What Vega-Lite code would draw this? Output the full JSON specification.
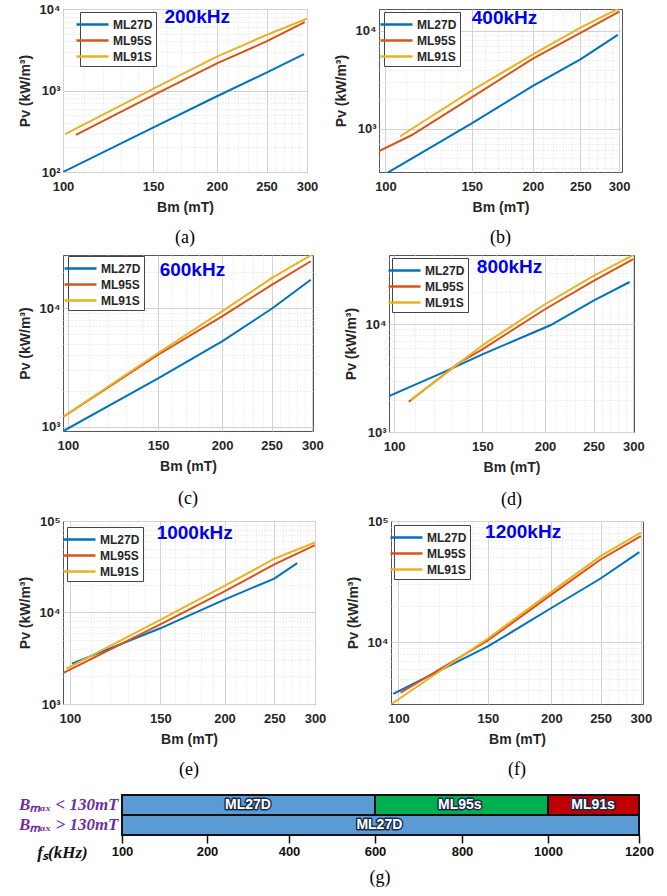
{
  "$schema": "https://vega.github.io/schema/vega-lite/v6.json",
  "background": "white",
  "padding": {"left": 17, "top": 2, "right": 0, "bottom": 0},
  "config": {
    "view": {"stroke": "#555555", "strokeWidth": 1},
    "axis": {
      "labelFont": "Liberation Sans", "labelFontWeight": "bold", "labelFontSize": 13, "labelColor": "#262626",
      "titleFont": "Liberation Sans", "titleFontWeight": "bold", "titleFontSize": 14, "titleColor": "#262626",
      "domain": false, "ticks": false, "grid": true, "labelOverlap": false, "labelBound": false, "labelFlush": false
    },
    "legend": {
      "orient": "none", "symbolType": "M-2,0H2", "symbolSize": 256, "symbolStrokeWidth": 2.5,
      "labelFont": "Liberation Sans", "labelFontWeight": "bold", "labelFontSize": 12, "labelColor": "#262626",
      "labelOffset": 11, "padding": 3, "strokeColor": "#444444", "fillColor": "white", "rowPadding": 0
    },
    "title": {"orient": "bottom", "frame": "group", "anchor": "middle", "font": "Liberation Serif", "fontSize": 18, "fontWeight": "normal", "color": "#000000", "offset": 15}
  },
  "datasets": {
    "curves": [
      {"f": "200kHz", "m": "ML27D", "b": 100, "pv": 100},
      {"f": "200kHz", "m": "ML27D", "b": 150, "pv": 350},
      {"f": "200kHz", "m": "ML27D", "b": 200, "pv": 850},
      {"f": "200kHz", "m": "ML27D", "b": 250, "pv": 1660},
      {"f": "200kHz", "m": "ML27D", "b": 296, "pv": 2800},
      {"f": "200kHz", "m": "ML95S", "b": 106, "pv": 285},
      {"f": "200kHz", "m": "ML95S", "b": 150, "pv": 870},
      {"f": "200kHz", "m": "ML95S", "b": 200, "pv": 2150},
      {"f": "200kHz", "m": "ML95S", "b": 250, "pv": 4000},
      {"f": "200kHz", "m": "ML95S", "b": 297, "pv": 6900},
      {"f": "200kHz", "m": "ML91S", "b": 101, "pv": 292},
      {"f": "200kHz", "m": "ML91S", "b": 150, "pv": 1050},
      {"f": "200kHz", "m": "ML91S", "b": 200, "pv": 2600},
      {"f": "200kHz", "m": "ML91S", "b": 250, "pv": 4800},
      {"f": "200kHz", "m": "ML91S", "b": 300, "pv": 7600},

      {"f": "400kHz", "m": "ML27D", "b": 100.6, "pv": 350},
      {"f": "400kHz", "m": "ML27D", "b": 150, "pv": 1130},
      {"f": "400kHz", "m": "ML27D", "b": 200, "pv": 2740},
      {"f": "400kHz", "m": "ML27D", "b": 250, "pv": 5100},
      {"f": "400kHz", "m": "ML27D", "b": 298, "pv": 9100},
      {"f": "400kHz", "m": "ML95S", "b": 97, "pv": 590},
      {"f": "400kHz", "m": "ML95S", "b": 113, "pv": 855},
      {"f": "400kHz", "m": "ML95S", "b": 150, "pv": 2090},
      {"f": "400kHz", "m": "ML95S", "b": 200, "pv": 5200},
      {"f": "400kHz", "m": "ML95S", "b": 250, "pv": 9500},
      {"f": "400kHz", "m": "ML95S", "b": 300, "pv": 15700},
      {"f": "400kHz", "m": "ML91S", "b": 107, "pv": 830},
      {"f": "400kHz", "m": "ML91S", "b": 150, "pv": 2440},
      {"f": "400kHz", "m": "ML91S", "b": 200, "pv": 5730},
      {"f": "400kHz", "m": "ML91S", "b": 250, "pv": 10800},
      {"f": "400kHz", "m": "ML91S", "b": 298, "pv": 16700},

      {"f": "600kHz", "m": "ML27D", "b": 98, "pv": 920},
      {"f": "600kHz", "m": "ML27D", "b": 150, "pv": 2560},
      {"f": "600kHz", "m": "ML27D", "b": 200, "pv": 5230},
      {"f": "600kHz", "m": "ML27D", "b": 250, "pv": 9870},
      {"f": "600kHz", "m": "ML27D", "b": 298, "pv": 17300},
      {"f": "600kHz", "m": "ML95S", "b": 98, "pv": 1215},
      {"f": "600kHz", "m": "ML95S", "b": 150, "pv": 4040},
      {"f": "600kHz", "m": "ML95S", "b": 200, "pv": 8500},
      {"f": "600kHz", "m": "ML95S", "b": 250, "pv": 15700},
      {"f": "600kHz", "m": "ML95S", "b": 298, "pv": 24800},
      {"f": "600kHz", "m": "ML91S", "b": 98, "pv": 1215},
      {"f": "600kHz", "m": "ML91S", "b": 150, "pv": 4180},
      {"f": "600kHz", "m": "ML91S", "b": 200, "pv": 9370},
      {"f": "600kHz", "m": "ML91S", "b": 250, "pv": 17900},
      {"f": "600kHz", "m": "ML91S", "b": 300, "pv": 28300},

      {"f": "800kHz", "m": "ML27D", "b": 97.7, "pv": 2160},
      {"f": "800kHz", "m": "ML27D", "b": 125, "pv": 3560},
      {"f": "800kHz", "m": "ML27D", "b": 150, "pv": 5260},
      {"f": "800kHz", "m": "ML27D", "b": 205, "pv": 9800},
      {"f": "800kHz", "m": "ML27D", "b": 250, "pv": 16600},
      {"f": "800kHz", "m": "ML27D", "b": 295, "pv": 24700},
      {"f": "800kHz", "m": "ML95S", "b": 107, "pv": 1910},
      {"f": "800kHz", "m": "ML95S", "b": 135, "pv": 4410},
      {"f": "800kHz", "m": "ML95S", "b": 150, "pv": 5860},
      {"f": "800kHz", "m": "ML95S", "b": 200, "pv": 13800},
      {"f": "800kHz", "m": "ML95S", "b": 250, "pv": 25300},
      {"f": "800kHz", "m": "ML95S", "b": 300, "pv": 40200},
      {"f": "800kHz", "m": "ML91S", "b": 108, "pv": 1980},
      {"f": "800kHz", "m": "ML91S", "b": 150, "pv": 6380},
      {"f": "800kHz", "m": "ML91S", "b": 200, "pv": 15350},
      {"f": "800kHz", "m": "ML91S", "b": 250, "pv": 28100},
      {"f": "800kHz", "m": "ML91S", "b": 300, "pv": 44000},

      {"f": "1000kHz", "m": "ML27D", "b": 101, "pv": 2760},
      {"f": "1000kHz", "m": "ML27D", "b": 150, "pv": 6720},
      {"f": "1000kHz", "m": "ML27D", "b": 200, "pv": 13840},
      {"f": "1000kHz", "m": "ML27D", "b": 250, "pv": 23500},
      {"f": "1000kHz", "m": "ML27D", "b": 277, "pv": 34600},
      {"f": "1000kHz", "m": "ML95S", "b": 97, "pv": 2180},
      {"f": "1000kHz", "m": "ML95S", "b": 150, "pv": 7400},
      {"f": "1000kHz", "m": "ML95S", "b": 200, "pv": 17000},
      {"f": "1000kHz", "m": "ML95S", "b": 250, "pv": 33500},
      {"f": "1000kHz", "m": "ML95S", "b": 300, "pv": 54400},
      {"f": "1000kHz", "m": "ML91S", "b": 98.5, "pv": 2430},
      {"f": "1000kHz", "m": "ML91S", "b": 150, "pv": 8300},
      {"f": "1000kHz", "m": "ML91S", "b": 200, "pv": 19500},
      {"f": "1000kHz", "m": "ML91S", "b": 250, "pv": 38700},
      {"f": "1000kHz", "m": "ML91S", "b": 300, "pv": 58300},

      {"f": "1200kHz", "m": "ML27D", "b": 97.7, "pv": 3730},
      {"f": "1200kHz", "m": "ML27D", "b": 150, "pv": 9200},
      {"f": "1200kHz", "m": "ML27D", "b": 200, "pv": 19120},
      {"f": "1200kHz", "m": "ML27D", "b": 250, "pv": 33500},
      {"f": "1200kHz", "m": "ML27D", "b": 298, "pv": 55300},
      {"f": "1200kHz", "m": "ML95S", "b": 101, "pv": 3830},
      {"f": "1200kHz", "m": "ML95S", "b": 150, "pv": 10300},
      {"f": "1200kHz", "m": "ML95S", "b": 200, "pv": 24650},
      {"f": "1200kHz", "m": "ML95S", "b": 250, "pv": 48100},
      {"f": "1200kHz", "m": "ML95S", "b": 300, "pv": 75100},
      {"f": "1200kHz", "m": "ML91S", "b": 96.7, "pv": 3060},
      {"f": "1200kHz", "m": "ML91S", "b": 150, "pv": 10700},
      {"f": "1200kHz", "m": "ML91S", "b": 200, "pv": 25960},
      {"f": "1200kHz", "m": "ML91S", "b": 250, "pv": 51300},
      {"f": "1200kHz", "m": "ML91S", "b": 300, "pv": 80000}
    ],
    "bands": [
      {"row": "Bₘₐₓ < 130mT", "start": 100, "end": 600, "mat": "ML27D", "at": 300},
      {"row": "Bₘₐₓ < 130mT", "start": 600, "end": 1000, "mat": "ML95s", "at": 795},
      {"row": "Bₘₐₓ < 130mT", "start": 1000, "end": 1200, "mat": "ML91s", "at": 1099},
      {"row": "Bₘₐₓ > 130mT", "start": 100, "end": 1200, "mat": "ML27D", "at": 610}
    ]
  },
  "resolve": {"scale": {"color": "independent"}, "legend": {"color": "independent"}},
  "columns": 1,
  "align": "none",
  "spacing": 14,
  "concat": [
    {
      "columns": 1,
      "align": "none",
      "spacing": 4,
      "resolve": {"scale": {"color": "independent"}, "legend": {"color": "independent"}},
      "concat": [
        {
          "columns": 2,
          "align": "none",
          "spacing": 14,
          "resolve": {"scale": {"color": "independent"}, "legend": {"color": "independent"}},
          "concat": [
            {
              "width": 244, "height": 163,
              "title": "(a)",
              "layer": [
                {
                  "data": {"name": "curves"},
                  "transform": [{"filter": "datum.f == '200kHz'"}],
                  "mark": {"type": "line", "clip": true, "strokeWidth": 2},
                  "encoding": {
                    "x": {"field": "b", "type": "quantitative", "scale": {"type": "log", "domain": [100, 300], "nice": false},
                      "axis": {"title": "Bm (mT)", "values": [100,110,120,130,140,150,160,170,180,190,200,210,220,230,240,250,260,270,280,290,300], "format": "d",
                        "labelExpr": "datum.value % 50 == 0 ? datum.label : ''", "labelPadding": 8, "titlePadding": 7,
                        "gridDash": {"condition": {"test": "datum.value % 50 == 0", "value": []}, "value": [1, 2]},
                        "gridColor": {"condition": {"test": "datum.value % 50 == 0", "value": "#d2d2d2"}, "value": "#dedede"}}},
                    "y": {"field": "pv", "type": "quantitative", "scale": {"type": "log", "domain": [100, 10000], "nice": false},
                      "axis": {"title": "Pv (kW/m³)", "values": [100,200,300,400,500,600,700,800,900,1000,2000,3000,4000,5000,6000,7000,8000,9000,10000],
                        "labelExpr": "datum.value == 100 ? '10²' : datum.value == 1000 ? '10³' : datum.value == 10000 ? '10⁴' : datum.value == 100000 ? '10⁵' : ''",
                        "labelPadding": 3, "titlePadding": 7,
                        "gridDash": {"condition": {"test": "datum.value == 100 || datum.value == 1000 || datum.value == 10000 || datum.value == 100000", "value": []}, "value": [1, 2]},
                        "gridColor": {"condition": {"test": "datum.value == 100 || datum.value == 1000 || datum.value == 10000 || datum.value == 100000", "value": "#d2d2d2"}, "value": "#dedede"}}},
                    "color": {"field": "m", "type": "nominal", "scale": {"domain": ["ML27D", "ML95S", "ML91S"], "range": ["#0072BD", "#D95319", "#EDB120"]},
                      "legend": {"title": null, "legendX": 17, "legendY": 3}}
                  }
                },
                {
                  "data": {"values": [{}]},
                  "mark": {"type": "text", "text": "200kHz", "font": "Liberation Sans", "fontWeight": "bold", "fontSize": 19, "color": "#0000F0", "align": "center", "baseline": "middle"},
                  "encoding": {"x": {"datum": 183, "type": "quantitative"}, "y": {"datum": 7940, "type": "quantitative"}}
                }
              ]
            },
            {
              "width": 243, "height": 163,
              "title": "(b)",
              "layer": [
                {
                  "data": {"name": "curves"},
                  "transform": [{"filter": "datum.f == '400kHz'"}],
                  "mark": {"type": "line", "clip": true, "strokeWidth": 2},
                  "encoding": {
                    "x": {"field": "b", "type": "quantitative", "scale": {"type": "log", "domain": [97, 304], "nice": false},
                      "axis": {"title": "Bm (mT)", "values": [100,110,120,130,140,150,160,170,180,190,200,210,220,230,240,250,260,270,280,290,300], "format": "d",
                        "labelExpr": "datum.value % 50 == 0 ? datum.label : ''", "labelPadding": 8, "titlePadding": 7,
                        "gridDash": {"condition": {"test": "datum.value % 50 == 0", "value": []}, "value": [1, 2]},
                        "gridColor": {"condition": {"test": "datum.value % 50 == 0", "value": "#d2d2d2"}, "value": "#dedede"}}},
                    "y": {"field": "pv", "type": "quantitative", "scale": {"type": "log", "domain": [360, 16700], "nice": false},
                      "axis": {"title": "Pv (kW/m³)", "values": [400,500,600,700,800,900,1000,2000,3000,4000,5000,6000,7000,8000,9000,10000],
                        "labelExpr": "datum.value == 100 ? '10²' : datum.value == 1000 ? '10³' : datum.value == 10000 ? '10⁴' : datum.value == 100000 ? '10⁵' : ''",
                        "labelPadding": 3, "titlePadding": 7,
                        "gridDash": {"condition": {"test": "datum.value == 100 || datum.value == 1000 || datum.value == 10000 || datum.value == 100000", "value": []}, "value": [1, 2]},
                        "gridColor": {"condition": {"test": "datum.value == 100 || datum.value == 1000 || datum.value == 10000 || datum.value == 100000", "value": "#d2d2d2"}, "value": "#dedede"}}},
                    "color": {"field": "m", "type": "nominal", "scale": {"domain": ["ML27D", "ML95S", "ML91S"], "range": ["#0072BD", "#D95319", "#EDB120"]},
                      "legend": {"title": null, "legendX": 5, "legendY": 3}}
                  }
                },
                {
                  "data": {"values": [{}]},
                  "mark": {"type": "text", "text": "400kHz", "font": "Liberation Sans", "fontWeight": "bold", "fontSize": 19, "color": "#0000F0", "align": "center", "baseline": "middle"},
                  "encoding": {"x": {"datum": 175, "type": "quantitative"}, "y": {"datum": 13500, "type": "quantitative"}}
                }
              ]
            }
          ]
        },
        {
          "columns": 2,
          "align": "none",
          "spacing": 19,
          "resolve": {"scale": {"color": "independent"}, "legend": {"color": "independent"}},
          "concat": [
            {
              "width": 250, "height": 176,
              "title": {"text": "(c)", "offset": 17},
              "layer": [
                {
                  "data": {"name": "curves"},
                  "transform": [{"filter": "datum.f == '600kHz'"}],
                  "mark": {"type": "line", "clip": true, "strokeWidth": 2},
                  "encoding": {
                    "x": {"field": "b", "type": "quantitative", "scale": {"type": "log", "domain": [97.8, 301], "nice": false},
                      "axis": {"title": "Bm (mT)", "values": [100,110,120,130,140,150,160,170,180,190,200,210,220,230,240,250,260,270,280,290,300], "format": "d",
                        "labelExpr": "datum.value % 50 == 0 ? datum.label : ''", "labelPadding": 8, "titlePadding": 7,
                        "gridDash": {"condition": {"test": "datum.value % 50 == 0", "value": []}, "value": [1, 2]},
                        "gridColor": {"condition": {"test": "datum.value % 50 == 0", "value": "#d2d2d2"}, "value": "#dedede"}}},
                    "y": {"field": "pv", "type": "quantitative", "scale": {"type": "log", "domain": [920, 28000], "nice": false},
                      "axis": {"title": "Pv (kW/m³)", "values": [1000,2000,3000,4000,5000,6000,7000,8000,9000,10000,20000],
                        "labelExpr": "datum.value == 100 ? '10²' : datum.value == 1000 ? '10³' : datum.value == 10000 ? '10⁴' : datum.value == 100000 ? '10⁵' : ''",
                        "labelPadding": 3, "titlePadding": 7,
                        "gridDash": {"condition": {"test": "datum.value == 100 || datum.value == 1000 || datum.value == 10000 || datum.value == 100000", "value": []}, "value": [1, 2]},
                        "gridColor": {"condition": {"test": "datum.value == 100 || datum.value == 1000 || datum.value == 10000 || datum.value == 100000", "value": "#d2d2d2"}, "value": "#dedede"}}},
                    "color": {"field": "m", "type": "nominal", "scale": {"domain": ["ML27D", "ML95S", "ML91S"], "range": ["#0072BD", "#D95319", "#EDB120"]},
                      "legend": {"title": null, "legendX": 5, "legendY": 1}}
                  }
                },
                {
                  "data": {"values": [{}]},
                  "mark": {"type": "text", "text": "600kHz", "font": "Liberation Sans", "fontWeight": "bold", "fontSize": 19, "color": "#0000F0", "align": "center", "baseline": "middle"},
                  "encoding": {"x": {"datum": 175, "type": "quantitative"}, "y": {"datum": 21000, "type": "quantitative"}}
                }
              ]
            },
            {
              "width": 245, "height": 177,
              "title": {"text": "(d)", "offset": 17},
              "layer": [
                {
                  "data": {"name": "curves"},
                  "transform": [{"filter": "datum.f == '800kHz'"}],
                  "mark": {"type": "line", "clip": true, "strokeWidth": 2},
                  "encoding": {
                    "x": {"field": "b", "type": "quantitative", "scale": {"type": "log", "domain": [97.7, 301], "nice": false},
                      "axis": {"title": "Bm (mT)", "values": [100,110,120,130,140,150,160,170,180,190,200,210,220,230,240,250,260,270,280,290,300], "format": "d",
                        "labelExpr": "datum.value % 50 == 0 ? datum.label : ''", "labelPadding": 8, "titlePadding": 7,
                        "gridDash": {"condition": {"test": "datum.value % 50 == 0", "value": []}, "value": [1, 2]},
                        "gridColor": {"condition": {"test": "datum.value % 50 == 0", "value": "#d2d2d2"}, "value": "#dedede"}}},
                    "y": {"field": "pv", "type": "quantitative", "scale": {"type": "log", "domain": [1000, 44000], "nice": false},
                      "axis": {"title": "Pv (kW/m³)", "values": [1000,2000,3000,4000,5000,6000,7000,8000,9000,10000,20000,30000,40000],
                        "labelExpr": "datum.value == 100 ? '10²' : datum.value == 1000 ? '10³' : datum.value == 10000 ? '10⁴' : datum.value == 100000 ? '10⁵' : ''",
                        "labelPadding": 3, "titlePadding": 7,
                        "gridDash": {"condition": {"test": "datum.value == 100 || datum.value == 1000 || datum.value == 10000 || datum.value == 100000", "value": []}, "value": [1, 2]},
                        "gridColor": {"condition": {"test": "datum.value == 100 || datum.value == 1000 || datum.value == 10000 || datum.value == 100000", "value": "#d2d2d2"}, "value": "#dedede"}}},
                    "color": {"field": "m", "type": "nominal", "scale": {"domain": ["ML27D", "ML95S", "ML91S"], "range": ["#0072BD", "#D95319", "#EDB120"]},
                      "legend": {"title": null, "legendX": 3, "legendY": 3}}
                  }
                },
                {
                  "data": {"values": [{}]},
                  "mark": {"type": "text", "text": "800kHz", "font": "Liberation Sans", "fontWeight": "bold", "fontSize": 19, "color": "#0000F0", "align": "center", "baseline": "middle"},
                  "encoding": {"x": {"datum": 170, "type": "quantitative"}, "y": {"datum": 34400, "type": "quantitative"}}
                }
              ]
            }
          ]
        },
        {
          "columns": 2,
          "align": "none",
          "spacing": 18,
          "resolve": {"scale": {"color": "independent"}, "legend": {"color": "independent"}},
          "concat": [
            {
              "width": 252, "height": 183,
              "title": "(e)",
              "layer": [
                {
                  "data": {"name": "curves"},
                  "transform": [{"filter": "datum.f == '1000kHz'"}],
                  "mark": {"type": "line", "clip": true, "strokeWidth": 2},
                  "encoding": {
                    "x": {"field": "b", "type": "quantitative", "scale": {"type": "log", "domain": [97, 300], "nice": false},
                      "axis": {"title": "Bm (mT)", "values": [100,110,120,130,140,150,160,170,180,190,200,210,220,230,240,250,260,270,280,290,300], "format": "d",
                        "labelExpr": "datum.value % 50 == 0 ? datum.label : ''", "labelPadding": 8, "titlePadding": 7,
                        "gridDash": {"condition": {"test": "datum.value % 50 == 0", "value": []}, "value": [1, 2]},
                        "gridColor": {"condition": {"test": "datum.value % 50 == 0", "value": "#d2d2d2"}, "value": "#dedede"}}},
                    "y": {"field": "pv", "type": "quantitative", "scale": {"type": "log", "domain": [1000, 100000], "nice": false},
                      "axis": {"title": "Pv (kW/m³)", "values": [1000,2000,3000,4000,5000,6000,7000,8000,9000,10000,20000,30000,40000,50000,60000,70000,80000,90000,100000],
                        "labelExpr": "datum.value == 100 ? '10²' : datum.value == 1000 ? '10³' : datum.value == 10000 ? '10⁴' : datum.value == 100000 ? '10⁵' : ''",
                        "labelPadding": 3, "titlePadding": 7,
                        "gridDash": {"condition": {"test": "datum.value == 100 || datum.value == 1000 || datum.value == 10000 || datum.value == 100000", "value": []}, "value": [1, 2]},
                        "gridColor": {"condition": {"test": "datum.value == 100 || datum.value == 1000 || datum.value == 10000 || datum.value == 100000", "value": "#d2d2d2"}, "value": "#dedede"}}},
                    "color": {"field": "m", "type": "nominal", "scale": {"domain": ["ML27D", "ML95S", "ML91S"], "range": ["#0072BD", "#D95319", "#EDB120"]},
                      "legend": {"title": null, "legendX": 4, "legendY": 6}}
                  }
                },
                {
                  "data": {"values": [{}]},
                  "mark": {"type": "text", "text": "1000kHz", "font": "Liberation Sans", "fontWeight": "bold", "fontSize": 19, "color": "#0000F0", "align": "center", "baseline": "middle"},
                  "encoding": {"x": {"datum": 175, "type": "quantitative"}, "y": {"datum": 73800, "type": "quantitative"}}
                }
              ]
            },
            {
              "width": 252, "height": 183,
              "title": "(f)",
              "layer": [
                {
                  "data": {"name": "curves"},
                  "transform": [{"filter": "datum.f == '1200kHz'"}],
                  "mark": {"type": "line", "clip": true, "strokeWidth": 2},
                  "encoding": {
                    "x": {"field": "b", "type": "quantitative", "scale": {"type": "log", "domain": [96.7, 303], "nice": false},
                      "axis": {"title": "Bm (mT)", "values": [100,110,120,130,140,150,160,170,180,190,200,210,220,230,240,250,260,270,280,290,300], "format": "d",
                        "labelExpr": "datum.value % 50 == 0 ? datum.label : ''", "labelPadding": 8, "titlePadding": 7,
                        "gridDash": {"condition": {"test": "datum.value % 50 == 0", "value": []}, "value": [1, 2]},
                        "gridColor": {"condition": {"test": "datum.value % 50 == 0", "value": "#d2d2d2"}, "value": "#dedede"}}},
                    "y": {"field": "pv", "type": "quantitative", "scale": {"type": "log", "domain": [3080, 100000], "nice": false},
                      "axis": {"title": "Pv (kW/m³)", "values": [4000,5000,6000,7000,8000,9000,10000,20000,30000,40000,50000,60000,70000,80000,90000,100000],
                        "labelExpr": "datum.value == 100 ? '10²' : datum.value == 1000 ? '10³' : datum.value == 10000 ? '10⁴' : datum.value == 100000 ? '10⁵' : ''",
                        "labelPadding": 3, "titlePadding": 7,
                        "gridDash": {"condition": {"test": "datum.value == 100 || datum.value == 1000 || datum.value == 10000 || datum.value == 100000", "value": []}, "value": [1, 2]},
                        "gridColor": {"condition": {"test": "datum.value == 100 || datum.value == 1000 || datum.value == 10000 || datum.value == 100000", "value": "#d2d2d2"}, "value": "#dedede"}}},
                    "color": {"field": "m", "type": "nominal", "scale": {"domain": ["ML27D", "ML95S", "ML91S"], "range": ["#0072BD", "#D95319", "#EDB120"]},
                      "legend": {"title": null, "legendX": 3, "legendY": 4}}
                  }
                },
                {
                  "data": {"values": [{}]},
                  "mark": {"type": "text", "text": "1200kHz", "font": "Liberation Sans", "fontWeight": "bold", "fontSize": 19, "color": "#0000F0", "align": "center", "baseline": "middle"},
                  "encoding": {"x": {"datum": 176, "type": "quantitative"}, "y": {"datum": 81100, "type": "quantitative"}}
                }
              ]
            }
          ]
        }
      ]
    },
    {
      "width": 576, "height": 40,
      "title": {"text": "(g)", "offset": 9, "dx": 29},
      "view": {"stroke": null},
      "data": {"name": "bands"},
      "layer": [
        {
          "mark": {"type": "bar", "stroke": "#111111", "strokeWidth": 2},
          "encoding": {
            "y": {"field": "row", "type": "nominal", "sort": null, "scale": {"paddingInner": 0, "paddingOuter": 0},
              "axis": {"title": null, "grid": false, "offset": -59, "labelFont": "Liberation Serif", "labelFontStyle": "italic", "labelFontWeight": "bold", "labelFontSize": 17, "labelColor": "#7030A0", "labelPadding": 4}},
            "x": {"field": "start", "type": "quantitative",
              "scale": {"domain": [100, 200, 400, 600, 800, 1000, 1200], "range": [59, 144, 226, 312, 399, 485, 576], "nice": false, "zero": false},
              "axis": {"values": [100, 200, 400, 600, 800, 1000, 1200], "format": "d", "grid": false, "ticks": true, "tickSize": 8, "tickColor": "#111111", "tickWidth": 1.5,
                "labelColor": "#111111", "labelFontSize": 13, "labelPadding": 2,
                "title": "fₛ(kHz)", "titleFont": "Liberation Serif", "titleFontStyle": "italic", "titleFontWeight": "bold", "titleFontSize": 17, "titleColor": "#111111",
                "titleX": -1, "titleY": 17, "titleAlign": "center", "titleBaseline": "middle", "titleAngle": 0}},
            "x2": {"field": "end"},
            "color": {"field": "mat", "type": "nominal", "scale": {"domain": ["ML27D", "ML95s", "ML91s"], "range": ["#5B9BD5", "#00B050", "#C00000"]}, "legend": null}
          }
        },
        {
          "mark": {"type": "text", "font": "Liberation Sans", "fontWeight": "bold", "fontSize": 14, "fill": "#1c2b4a", "stroke": "#1c2b4a", "strokeWidth": 3, "strokeJoin": "round"},
          "encoding": {
            "x": {"field": "at", "type": "quantitative"},
            "y": {"field": "row", "type": "nominal", "sort": null},
            "text": {"field": "mat"}
          }
        },
        {
          "mark": {"type": "text", "font": "Liberation Sans", "fontWeight": "bold", "fontSize": 14, "fill": "#ffffff"},
          "encoding": {
            "x": {"field": "at", "type": "quantitative"},
            "y": {"field": "row", "type": "nominal", "sort": null},
            "text": {"field": "mat"}
          }
        }
      ]
    }
  ]
}
